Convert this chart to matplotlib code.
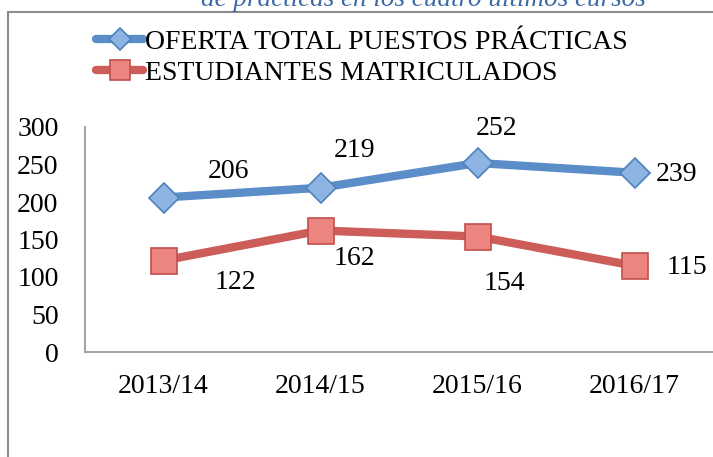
import matplotlib.pyplot as plt
from matplotlib.patches import Rectangle

plt.rcParams['font.family'] = ['Liberation Serif', 'DejaVu Serif']

cursos = ['2013/14', '2014/15', '2015/16', '2016/17']
oferta = [206, 219, 252, 239]
matriculados = [122, 162, 154, 115]

fig = plt.figure(figsize=(7.13, 4.57), dpi=100)
ax = fig.add_axes([85 / 713, 1 - 352 / 457, 628 / 713, 225 / 457])

x = range(len(cursos))
azul = '#5b8ec8'
rojo = '#cd5d58'
ax.plot(x, oferta, color=azul, lw=6, marker='D', ms=15,
        mfc='#8db4e2', mec='#4f81bd', mew=1.2, solid_capstyle='round',
        label='OFERTA TOTAL PUESTOS PRÁCTICAS')
ax.plot(x, matriculados, color=rojo, lw=6, marker='s', ms=19,
        mfc='#ec8580', mec='#c0504d', mew=1.2, solid_capstyle='round',
        label='ESTUDIANTES MATRICULADOS')

# etiquetas de datos (desplazamiento en puntos)
off_oferta = [(47, 19), (24.5, 27), (14, 25), (30, -1)]
off_matri = [(52, -16), (24.5, -20), (19, -34), (38, -1)]
for i, v in enumerate(oferta):
    ax.annotate(str(v), (i, v), xytext=off_oferta[i], textcoords='offset points',
                ha='center', va='center', fontsize=20)
for i, v in enumerate(matriculados):
    ax.annotate(str(v), (i, v), xytext=off_matri[i], textcoords='offset points',
                ha='center', va='center', fontsize=20)

ax.set_xlim(-0.5, 3.5)
ax.set_ylim(0, 300)
ax.set_yticks(range(0, 301, 50))
ax.set_xticks(list(x))
ax.set_xticklabels(cursos)
ax.tick_params(axis='both', length=0, labelsize=20)
ax.tick_params(axis='y', pad=19)
ax.tick_params(axis='x', pad=16)
for s in ['top', 'right']:
    ax.spines[s].set_visible(False)
for s in ['left', 'bottom']:
    ax.spines[s].set_color('#a6a6a6')
    ax.spines[s].set_linewidth(1.5)

leg = fig.legend(loc='upper left', bbox_to_anchor=(85 / 713, 1 - 18 / 457),
                 frameon=False, fontsize=20, handlelength=1.7, handletextpad=0.05,
                 labelspacing=0.2, borderaxespad=0, markerscale=0.75)

# marco exterior del gráfico
fig.patches.append(Rectangle((8 / 713, -0.1), 1.2, 1 - 12 / 457 + 0.1,
                             transform=fig.transFigure, fill=False,
                             ec='#8c8c8c', lw=1.5, clip_on=False))

fig.text(423 / 713, 1.0, 'de prácticas en los cuatro últimos cursos',
         ha='center', va='center', fontsize=19.5, style='italic', color='#3c6aa6')

fig.savefig('out.png', dpi=100)
